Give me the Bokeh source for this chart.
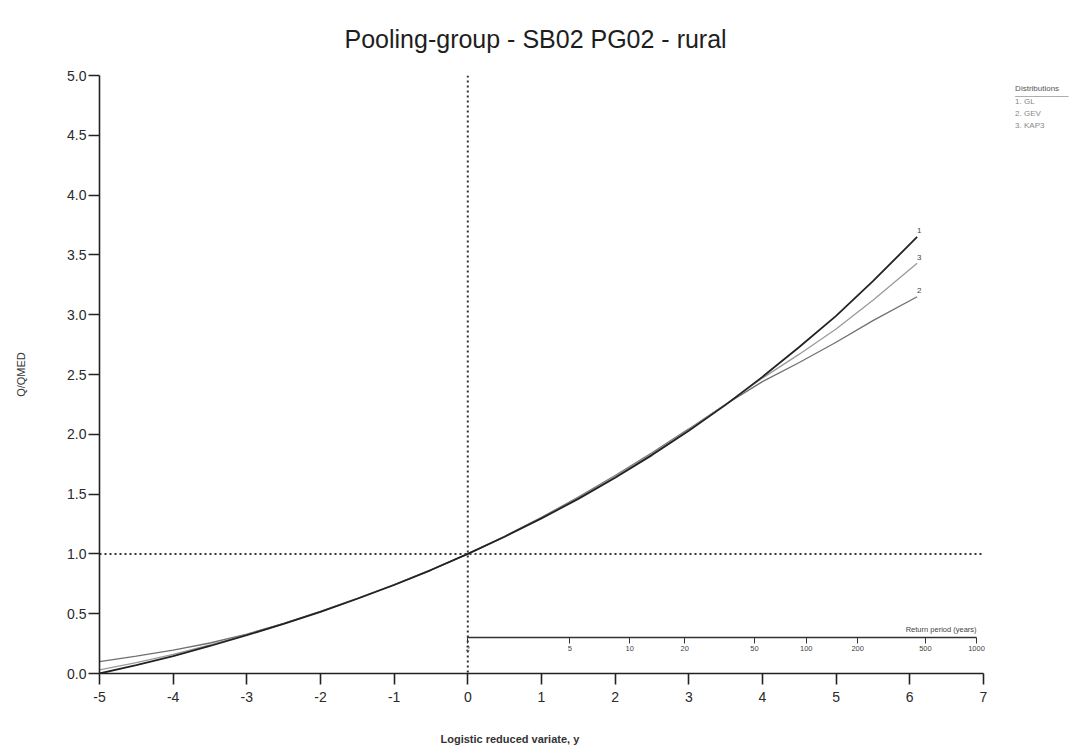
from bokeh.plotting import figure
from bokeh.models import LinearAxis, FixedTicker, Span, Label, Range1d, Title, NumeralTickFormatter
from bokeh.embed import file_html
from bokeh.resources import INLINE
import math

# ---- data ----
x_vals = [-5, -4.5, -4, -3.5, -3, -2.5, -2, -1.5, -1, -0.5, 0, 0.5, 1, 1.5, 2, 2.5, 3, 3.5, 4, 4.5, 5, 5.5, 6.1]
gl   = [0.00, 0.07, 0.145, 0.23, 0.32, 0.415, 0.515, 0.625, 0.74, 0.865, 1.0, 1.143, 1.297, 1.46, 1.637, 1.826, 2.03, 2.246, 2.48, 2.73, 2.99, 3.28, 3.65]
gev  = [0.10, 0.145, 0.195, 0.255, 0.33, 0.42, 0.52, 0.628, 0.743, 0.867, 1.0, 1.147, 1.305, 1.475, 1.655, 1.845, 2.045, 2.25, 2.44, 2.60, 2.77, 2.95, 3.15]
kap3 = [0.03, 0.09, 0.16, 0.24, 0.325, 0.417, 0.517, 0.626, 0.742, 0.866, 1.0, 1.145, 1.302, 1.468, 1.647, 1.836, 2.038, 2.25, 2.47, 2.67, 2.88, 3.12, 3.43]

dist_names = ["1. GL", "2. GEV", "3. KAP3"]
curve_ids = ["1", "2", "3"]
return_periods = [2, 5, 10, 20, 50, 100, 200, 500, 1000]
x_ticks = list(range(-5, 8))
y_ticks = [0.0, 0.5, 1.0, 1.5, 2.0, 2.5, 3.0, 3.5, 4.0, 4.5, 5.0]
x_axis_min, x_axis_max = -5, 7
qmed_level = 1.0

FONT = "Liberation Sans"

p = figure(frame_width=976, frame_height=598, output_backend="svg", toolbar_location=None,
           x_range=Range1d(-5, 8.25), y_range=Range1d(0, 5),
           min_border_left=99, min_border_right=0, min_border_top=75, min_border_bottom=60,
           y_axis_label="Q/QMED")
p.outline_line_color = None
p.xgrid.visible = False
p.ygrid.visible = False

p.title.text = "Pooling-group - SB02 PG02 - rural"
p.title.text_font = FONT
p.title.text_font_size = "25px"
p.title.text_font_style = "normal"
p.title.text_color = "#1e1e1e"
p.title.align = "left"
p.title.offset = 245
p.title.standoff = 45

for ax in (p.xaxis[0], p.yaxis[0]):
    ax.axis_line_color = "#222222"
    ax.axis_line_width = 1.6
    ax.major_tick_line_color = "#222222"
    ax.major_tick_line_width = 1.6
    ax.major_tick_in = 0
    ax.major_tick_out = 11
    ax.minor_tick_line_color = None
    ax.major_label_text_font = FONT
    ax.major_label_text_font_size = "14px"
    ax.major_label_text_color = "#2a2a2a"
    ax.axis_label_text_font = FONT
    ax.axis_label_text_font_size = "11px"
    ax.axis_label_text_color = "#333333"

p.xaxis[0].ticker = FixedTicker(ticks=x_ticks)
p.xaxis[0].bounds = (x_axis_min, x_axis_max)
p.xaxis[0].major_label_overrides = {t: str(t) for t in x_ticks}
p.xaxis[0].major_label_standoff = 7
p.yaxis[0].ticker = FixedTicker(ticks=y_ticks)
p.yaxis[0].formatter = NumeralTickFormatter(format="0.0")
p.yaxis[0].major_label_standoff = 2
p.yaxis[0].axis_label_standoff = 37
p.yaxis[0].axis_label_text_font_style = "normal"

xt = Title(text="Logistic reduced variate, y", align="left", offset=341, standoff=53,
           text_font=FONT, text_font_size="11px", text_font_style="bold", text_color="#333333")
p.add_layout(xt, "below")

# return-period axis drawn inside the frame
rp_ticks = [math.log(t - 1) for t in return_periods]
rp_axis = LinearAxis(fixed_location=0.30, bounds=(0, rp_ticks[-1]),
                     ticker=FixedTicker(ticks=rp_ticks),
                     major_label_overrides={v: str(t) for v, t in zip(rp_ticks, return_periods)})
rp_axis.axis_line_color = "#333333"
rp_axis.axis_line_width = 1.5
rp_axis.major_tick_in = 0
rp_axis.major_tick_out = 6
rp_axis.major_tick_line_color = "#333333"
rp_axis.minor_tick_line_color = None
rp_axis.major_label_text_font = FONT
rp_axis.major_label_text_font_size = "7.5px"
rp_axis.major_label_text_color = "#444444"
rp_axis.major_label_standoff = 2
p.add_layout(rp_axis, "below")

p.add_layout(Label(x=rp_ticks[-1], y=0.33, text="Return period (years)", text_align="right",
                   text_baseline="bottom", text_font=FONT, text_font_size="7.5px",
                   text_color="#444444"))

# reference lines
p.add_layout(Span(location=0, dimension="height", line_color="#333333", line_width=2, line_dash="2 3"))
p.line([x_axis_min, x_axis_max], [qmed_level, qmed_level], line_color="#333333", line_width=2,
       line_dash="2 3")

# curves
p.line(x_vals, gev, line_color="#707070", line_width=1.3)
p.line(x_vals, kap3, line_color="#9a9a9a", line_width=1.3)
p.line(x_vals, gl, line_color="#222222", line_width=1.8)

for cid, series in zip(curve_ids, [gl, gev, kap3]):
    p.add_layout(Label(x=x_vals[-1] + 0.03, y=series[-1] + 0.03, text=cid, text_align="center",
                       text_baseline="bottom", text_font=FONT, text_font_size="8px",
                       text_color="#444444"))

# legend text (top right)
p.add_layout(Label(x=7.43, y=4.89, text="Distributions", text_align="left", text_baseline="middle",
                   text_font=FONT, text_font_size="8px", text_color="#555555"))
p.add_layout(Label(x=7.43, y=4.86, text="____________", text_align="left", text_baseline="middle",
                   text_font=FONT, text_font_size="8px", text_color="#666666"))
for i, name in enumerate(dist_names):
    p.add_layout(Label(x=7.43, y=4.78 - 0.1 * i, text=name, text_align="left", text_baseline="middle",
                       text_font=FONT, text_font_size="8px", text_color="#888888"))

open("out.html", "w").write(file_html(p, INLINE))
